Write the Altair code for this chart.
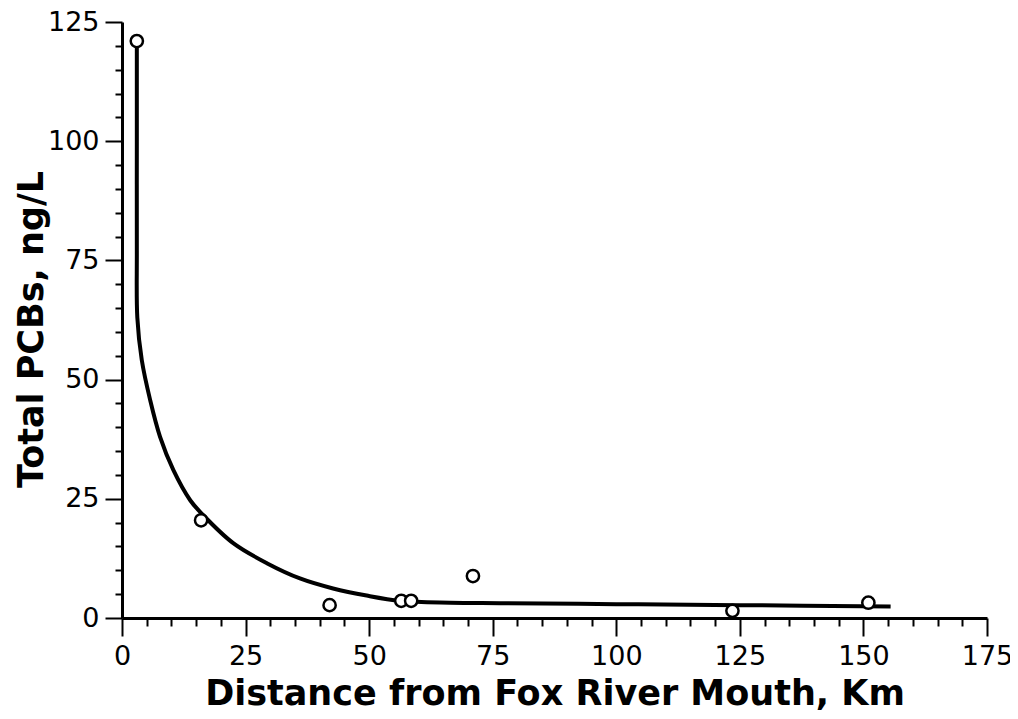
import altair as alt
import pandas as pd

# Observed data points (distance km, total PCBs ng/L)
dist = [3, 16, 42, 56.5, 58.5, 71, 123.5, 151]
pcb = [121, 20.5, 2.7, 3.6, 3.6, 8.8, 1.5, 3.2]

# Fitted curve
curve_x = [3.0, 3.0, 3.0, 3.1, 4.0, 5.7, 7.7, 10.4, 13.8, 16.4, 22.5, 29.3, 36.0,
           42.7, 49.5, 56.3, 66.4, 76.5, 100, 125, 155.5]
curve_y = [121, 100, 77, 63, 54.1, 45.7, 38.0, 31.0, 24.7, 21.6, 15.7, 11.5, 8.3,
           6.2, 4.7, 3.6, 3.2, 3.1, 2.9, 2.7, 2.4]

x_ticks = list(range(0, 180, 5))
y_ticks = list(range(0, 130, 5))

pts = pd.DataFrame({"d": dist, "p": pcb})
crv = pd.DataFrame({"d": curve_x, "p": curve_y, "o": list(range(len(curve_x)))})

LFONT = "DejaVu Sans"
TFONT = "DejaVu Sans"

x_axis = alt.Axis(
    values=x_ticks,
    tickCount=200,
    format="d",
    title="Distance from Fox River Mouth, Km",
    labelExpr="datum.value % 25 === 0 ? datum.label : ''",
    labelOverlap=False,
    labelFlush=False,
    tickSize={"condition": {"test": "datum.value % 25 === 0", "value": 18}, "value": 8},
    tickWidth=2,
    tickColor="black",
    domainColor="black",
    domainWidth=3,
    labelFont=LFONT,
    labelFontSize=27,
    labelColor="black",
    labelPadding=7,
    titleFont=TFONT,
    titleFontSize=35,
    titleFontWeight="bold",
    titleColor="black",
    titleBaseline="alphabetic",
    titleY=86,
    grid=False,
)
y_axis = alt.Axis(
    values=y_ticks,
    tickCount=200,
    format="d",
    title="Total PCBs, ng/L",
    labelExpr="datum.value % 25 === 0 ? datum.label : ''",
    labelOverlap=False,
    tickSize={"condition": {"test": "datum.value % 25 === 0", "value": 17}, "value": 7},
    tickWidth=2,
    tickColor="black",
    domainColor="black",
    domainWidth=3,
    labelFont=LFONT,
    labelFontSize=27,
    labelColor="black",
    labelPadding=6,
    titleFont=TFONT,
    titleFontSize=35,
    titleFontWeight="bold",
    titleColor="black",
    titleBaseline="alphabetic",
    titleX=-80,
    titleY=307,
    grid=False,
)

xs = alt.Scale(domain=[0, 175], nice=False, zero=False)
ys = alt.Scale(domain=[0, 125], nice=False, zero=False)

line = alt.Chart(crv).mark_line(
    color="black", strokeWidth=4, interpolate="catmull-rom"
).encode(
    x=alt.X("d:Q", scale=xs, axis=x_axis),
    y=alt.Y("p:Q", scale=ys, axis=y_axis),
    order="o:O",
)

points = alt.Chart(pts).mark_point(
    shape="circle", size=150, filled=True, fill="white", stroke="black",
    strokeWidth=2.5, opacity=1
).encode(
    x=alt.X("d:Q", scale=xs),
    y=alt.Y("p:Q", scale=ys),
)

chart = alt.layer(line, points).properties(
    width=865,
    height=596,
    autosize=alt.AutoSizeParams(type="none"),
    padding={"left": 114, "top": 14, "right": 23, "bottom": 93},
    background="white",
).configure_view(stroke=None)

chart.save("out.html", embed_options={"renderer": "svg", "actions": False})
